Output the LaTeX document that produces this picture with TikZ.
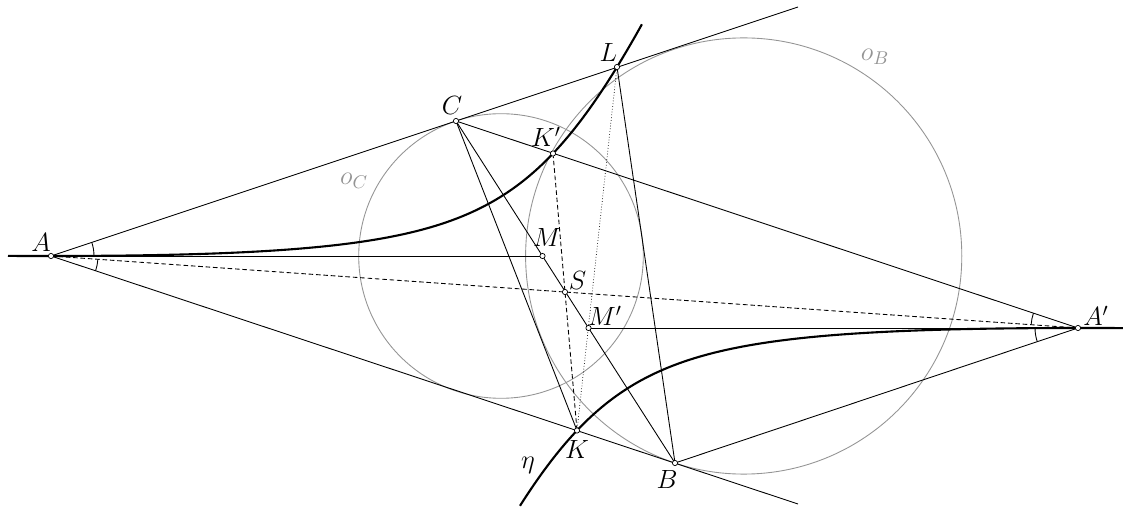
\RequirePackage{fix-cm}
\documentclass[tikz,border=0pt]{standalone}
\usetikzlibrary{angles}
\begin{document}
\begin{tikzpicture}[x=0.02cm,y=0.02cm,
  thinln/.style={line width=0.5pt},
  dashln/.style={line width=0.5pt,dash pattern=on 2.6pt off 1.6pt},
  dotln/.style={line width=0.4pt,dash pattern=on 0.4pt off 1.2pt},
  circ/.style={line width=0.5pt,draw=black!42},
  thickcurve/.style={line width=1.2pt},
  pt/.style={circle,draw,fill=white,inner sep=0pt,minimum size=0.105cm,line width=0.4pt},
  lbl/.style={inner sep=0pt,font=\fontsize{15}{18}\selectfont},
  glbl/.style={inner sep=0pt,font=\fontsize{15}{18}\selectfont,text=black!42},
  angmark/.style={draw,line width=0.5pt}]
\useasboundingbox (0,0) rectangle (1125,-509);
% key points
\coordinate (pA) at (51,-256);
\coordinate (pAp) at (1078,-328);
\coordinate (pC) at (456,-121);
\coordinate (pB) at (675,-463);
\coordinate (pL) at (617,-67);
\coordinate (pKp) at (553,-153.5);
\coordinate (pK) at (577,-430.5);
\coordinate (pM) at (542.5,-256);
\coordinate (pMp) at (588.5,-328);
\coordinate (pS) at (565,-292);
\coordinate (E1) at (798,-7);
\coordinate (E2) at (798,-504);
\coordinate (cC) at (501,-256);
\coordinate (cB) at (743.7,-256);
% circles
\draw[circ] (cC) circle[radius=142.3];
\draw[circ] (cB) circle[radius=218.1];
% lines
\draw[thinln] (pA) -- (E1);
\draw[thinln] (pA) -- (E2);
\draw[thinln] (pC) -- (pAp);
\draw[thinln] (pB) -- (pAp);
\draw[thinln] (pA) -- (pM);
\draw[thinln] (pMp) -- (pAp);
\draw[thinln] (pC) -- (pK);
\draw[thinln] (pC) -- (pB);
\draw[thinln] (pL) -- (pB);
\draw[dashln] (pA) -- (pAp);
\draw[dashln] (pKp) -- (pK);
\draw[dotln] (pL) -- (pK);
% angle marks
\pic[angmark,angle radius=0.86cm] {angle=pM--pA--pC};
\pic[angmark,angle radius=0.94cm] {angle=pB--pA--pAp};
\pic[angmark,angle radius=0.94cm] {angle=pC--pAp--pA};
\pic[angmark,angle radius=0.86cm] {angle=pMp--pAp--pB};
% curve eta (hyperbola centred at S)
\draw[thickcurve] plot[domain=-5.57:0.77,samples=220,variable=\w]
  ({565+100*\w},{-(292+100*(-1.0139*\w-sqrt(1.08921*\w*\w+1.73492))/0.86746)});
\draw[thickcurve] plot[domain=-0.45:5.58,samples=220,variable=\w]
  ({565+100*\w},{-(292+100*(-1.0139*\w+sqrt(1.08921*\w*\w+1.73492))/0.86746)});
% point markers
\foreach \p in {pA,pAp,pC,pB,pL,pKp,pK,pM,pMp,pS}
  \node[pt] (n\p) at (\p) {};
% labels
\node[lbl] (lA) at (41,-242) {$A$};
\node[lbl] (lAp) at (1096,-316) {$A'$};
\node[lbl] (lC) at (452,-106) {$C$};
\node[lbl] (lKp) at (546,-137) {$K'$};
\node[lbl] (lL) at (608.5,-52.5) {$L$};
\node[lbl] (lM) at (547,-237.5) {$M$};
\node[lbl] (lS) at (577.5,-280) {$S$};
\node[lbl] (lMp) at (605,-316) {$M'$};
\node[lbl] (lK) at (577,-449) {$K$};
\node[lbl] (lB) at (667,-479) {$B$};
\node[lbl] (leta) at (528,-465) {$\eta$};
\node[glbl] (loB) at (875,-57) {$o_B$};
\node[glbl] (loC) at (354,-181) {$o_C$};
\end{tikzpicture}
\end{document}
